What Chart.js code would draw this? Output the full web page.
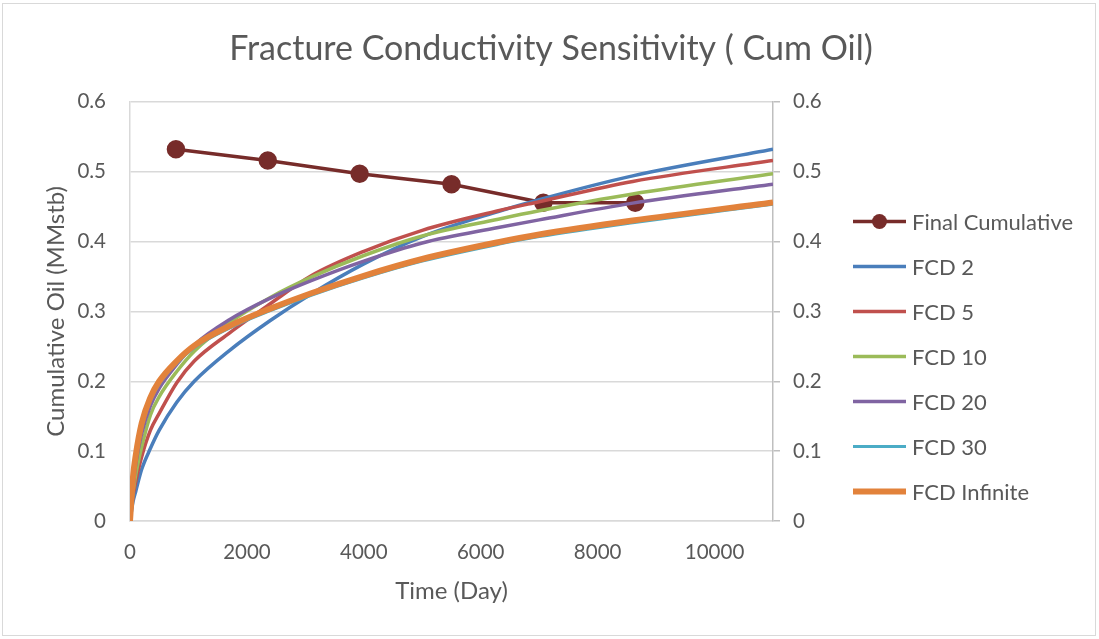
<!DOCTYPE html>
<html>
<head>
<meta charset="utf-8">
<title>Fracture Conductivity Sensitivity</title>
<script src="https://cdn.jsdelivr.net/npm/chart.js@4.4.1/dist/chart.umd.min.js"></script>
<style>
  html, body { margin: 0; padding: 0; background: #fff; }
  canvas { display: block; }
</style>
</head>
<body>
<canvas id="cumOilChart" width="1099" height="639"></canvas>
<script>
// Cumulative oil (MMstb) vs time (days) for each fracture conductivity run
const timeDays = [0, 50, 100, 200, 350, 500, 800, 1100, 1700, 2400, 3100, 4000, 5000, 6300, 7000, 8600, 11000];
const fcd2   = [0, 0.027, 0.043, 0.074, 0.104, 0.130, 0.170, 0.200, 0.244, 0.287, 0.325, 0.368, 0.407, 0.443, 0.460, 0.494, 0.532];
const fcd5   = [0, 0.035, 0.057, 0.092, 0.130, 0.154, 0.198, 0.229, 0.269, 0.311, 0.351, 0.386, 0.416, 0.444, 0.457, 0.486, 0.516];
const fcd10  = [0, 0.040, 0.067, 0.106, 0.152, 0.178, 0.214, 0.243, 0.284, 0.320, 0.349, 0.380, 0.408, 0.432, 0.444, 0.468, 0.497];
const fcd20  = [0, 0.046, 0.082, 0.125, 0.165, 0.190, 0.224, 0.252, 0.288, 0.319, 0.344, 0.372, 0.398, 0.420, 0.431, 0.455, 0.482];
const fcd30  = [0, 0.058, 0.090, 0.135, 0.172, 0.196, 0.226, 0.248, 0.276, 0.301, 0.323, 0.348, 0.372, 0.396, 0.407, 0.427, 0.4535];
const fcdInf = [0, 0.062, 0.095, 0.140, 0.177, 0.200, 0.229, 0.251, 0.279, 0.304, 0.326, 0.351, 0.375, 0.399, 0.410, 0.430, 0.456];

// final cumulative of each case (FCD 2 ... FCD Infinite)
const finalDays = [786, 2357, 3929, 5500, 7071, 8643];
const finalCum  = [0.532, 0.516, 0.497, 0.482, 0.4555, 0.4555];

const xTicks = [0, 2000, 4000, 6000, 8000, 10000];
const yTicks = [0, 0.1, 0.2, 0.3, 0.4, 0.5, 0.6];

const FONT = 'Lato, "Open Sans", sans-serif';
const TEXT = '#595959';

const pairs = (xs, ys) => xs.map((x, i) => ({ x: x, y: ys[i] }));

function curve(label, values, color, width, order) {
    return {
        label: label,
        data: pairs(timeDays, values),
        borderColor: color,
        backgroundColor: color,
        borderWidth: width,
        pointRadius: 0,
        cubicInterpolationMode: 'monotone',
        order: order
    };
}

// white background and the thin frame round the chart
const frame = {
    id: 'frame',
    beforeDraw(chart) {
        const ctx = chart.ctx;
        ctx.save();
        ctx.fillStyle = '#fff';
        ctx.fillRect(0, 0, chart.width, chart.height);
        ctx.strokeStyle = '#d9d9d9';
        ctx.lineWidth = 1;
        ctx.strokeRect(2.5, 3.5, 1093, 632);
        ctx.restore();
    }
};

// legend on the right, one row per series
const sideLegend = {
    id: 'sideLegend',
    afterDraw(chart) {
        const ctx = chart.ctx;
        ctx.save();
        ctx.font = '22px ' + FONT;
        ctx.textBaseline = 'middle';
        chart.data.datasets.forEach((ds, i) => {
            const y = 221.5 + i * 45;
            ctx.strokeStyle = ds.borderColor;
            ctx.lineWidth = ds.borderWidth;
            ctx.beginPath();
            ctx.moveTo(853, y);
            ctx.lineTo(906, y);
            ctx.stroke();
            if (ds.pointRadius) {
                ctx.fillStyle = ds.pointBackgroundColor;
                ctx.beginPath();
                ctx.arc(879.5, y, ds.pointRadius, 0, Math.PI * 2);
                ctx.fill();
            }
            ctx.fillStyle = TEXT;
            ctx.fillText(ds.label, 912, y + 1);
        });
        ctx.restore();
    }
};

Chart.defaults.font.family = FONT;
Chart.defaults.color = TEXT;

new Chart(document.getElementById('cumOilChart'), {
    type: 'line',
    data: {
        datasets: [
            {
                label: 'Final Cumulative',
                data: pairs(finalDays, finalCum),
                borderColor: '#772c2a',
                backgroundColor: '#772c2a',
                pointBackgroundColor: '#772c2a',
                pointBorderColor: '#772c2a',
                borderWidth: 3.5,
                pointRadius: 7.5,
                tension: 0,
                order: 6
            },
            curve('FCD 2', fcd2, '#4a7ebb', 3.5, 5),
            curve('FCD 5', fcd5, '#c0504d', 3.5, 4),
            curve('FCD 10', fcd10, '#9bbb59', 3.5, 3),
            curve('FCD 20', fcd20, '#8064a2', 3.5, 2),
            curve('FCD 30', fcd30, '#4bacc6', 3, 1),
            curve('FCD Infinite', fcdInf, '#e2823b', 6, 0)
        ]
    },
    options: {
        responsive: false,
        animation: false,
        events: [],
        layout: { padding: { left: 10, right: 7, top: 0, bottom: 20 } },
        plugins: {
            legend: { display: false },
            tooltip: { enabled: false },
            title: {
                display: true,
                text: 'Fracture Conductivity Sensitivity ( Cum Oil)',
                color: TEXT,
                font: { size: 34, weight: 'normal', family: FONT },
                padding: { top: 29, bottom: 32 }
            }
        },
        scales: {
            x: {
                type: 'linear',
                min: 0,
                max: 11000,
                afterBuildTicks: axis => { axis.ticks = xTicks.map(v => ({ value: v })); },
                afterFit: axis => { axis.height = 98; },
                ticks: {
                    font: { size: 20.5 },
                    color: TEXT,
                    padding: 19,
                    maxRotation: 0,
                    callback: v => String(v)
                },
                grid: { display: false, drawTicks: false },
                border: { display: true, color: '#d9d9d9', width: 1.5 },
                title: {
                    display: true,
                    text: 'Time (Day)',
                    color: TEXT,
                    font: { size: 24 },
                    padding: { top: 4, bottom: 13.5 }
                }
            },
            y: {
                position: 'left',
                min: 0,
                max: 0.6,
                afterBuildTicks: axis => { axis.ticks = yTicks.map(v => ({ value: v })); },
                afterFit: axis => { axis.width = 120; },
                ticks: {
                    font: { size: 20.5 },
                    color: TEXT,
                    padding: 24,
                    callback: v => String(+v.toFixed(1))
                },
                grid: { color: '#d9d9d9', lineWidth: 1.5, drawTicks: false },
                border: { display: true, color: '#d9d9d9', width: 1.5 },
                title: {
                    display: true,
                    text: 'Cumulative Oil (MMstb)',
                    color: TEXT,
                    font: { size: 24 },
                    padding: { top: 31.5, bottom: 0 }
                }
            },
            y2: {
                // the wide right box also holds the legend column
                position: 'right',
                min: 0,
                max: 0.6,
                afterBuildTicks: axis => { axis.ticks = yTicks.map(v => ({ value: v })); },
                afterFit: axis => { axis.width = 319; },
                ticks: {
                    font: { size: 20.5 },
                    color: TEXT,
                    padding: 13,
                    callback: v => String(+v.toFixed(1))
                },
                grid: { drawOnChartArea: false, color: '#bfbfbf', tickLength: 7, lineWidth: 1.5 },
                border: { display: true, color: '#bfbfbf', width: 1.5 }
            }
        }
    },
    plugins: [frame, sideLegend]
});
</script>
</body>
</html>
